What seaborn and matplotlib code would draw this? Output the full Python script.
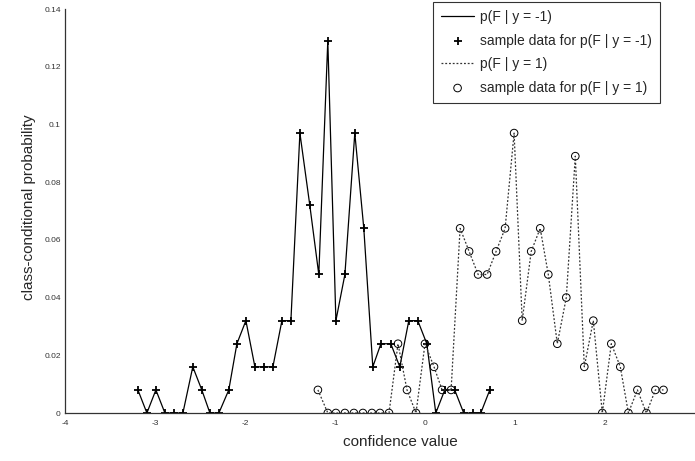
import numpy as np
import seaborn as sns
import matplotlib
matplotlib.use("Agg")
import matplotlib.pyplot as plt

# class y = -1 : histogram bin centres and probabilities
x_neg = [-3.19, -3.09, -2.99, -2.89, -2.79, -2.69, -2.58, -2.48, -2.39, -2.29,
         -2.18, -2.09, -1.99, -1.89, -1.79, -1.69, -1.59, -1.49, -1.39, -1.28,
         -1.18, -1.08, -0.99, -0.89, -0.78, -0.68, -0.58, -0.49, -0.38, -0.28,
         -0.18, -0.08, 0.02, 0.12, 0.22, 0.33, 0.43, 0.53, 0.62, 0.72]
p_neg = [0.008, 0.0, 0.008, 0.0, 0.0, 0.0, 0.016, 0.008, 0.0, 0.0,
         0.008, 0.024, 0.032, 0.016, 0.016, 0.016, 0.032, 0.032, 0.097, 0.072,
         0.048, 0.129, 0.032, 0.048, 0.097, 0.064, 0.016, 0.024, 0.024, 0.016,
         0.032, 0.032, 0.024, 0.0, 0.008, 0.008, 0.0, 0.0, 0.0, 0.008]

# class y = 1
x_pos = [-1.19, -1.08, -0.99, -0.89, -0.79, -0.69, -0.59, -0.50, -0.40, -0.30,
         -0.20, -0.10, 0.0, 0.10, 0.19, 0.29, 0.39, 0.49, 0.59, 0.69,
         0.79, 0.89, 0.99, 1.08, 1.18, 1.28, 1.37, 1.47, 1.57, 1.67,
         1.77, 1.87, 1.97, 2.07, 2.17, 2.26, 2.36, 2.46, 2.56, 2.65]
p_pos = [0.008, 0.0, 0.0, 0.0, 0.0, 0.0, 0.0, 0.0, 0.0, 0.024,
         0.008, 0.0, 0.024, 0.016, 0.008, 0.008, 0.064, 0.056, 0.048, 0.048,
         0.056, 0.064, 0.097, 0.032, 0.056, 0.064, 0.048, 0.024, 0.040, 0.089,
         0.016, 0.032, 0.0, 0.024, 0.016, 0.0, 0.008, 0.0, 0.008, 0.008]

x_ticks = [-4, -3, -2, -1, 0, 1, 2]
y_ticks = [0, 0.02, 0.04, 0.06, 0.08, 0.1, 0.12, 0.14]
y_tick_labels = ["0", "0.02", "0.04", "0.06", "0.08", "0.1", "0.12", "0.14"]

sns.set_style("white")
plt.rcParams["font.family"] = ["Liberation Sans", "DejaVu Sans"]

fig = plt.figure(figsize=(6.95, 4.61), dpi=100)
ax = fig.add_axes([65 / 695, 1 - 413 / 461, 1 - 65 / 695, (413 - 9) / 461])

sns.lineplot(x=x_neg, y=p_neg, ax=ax, color="black", linewidth=0.9,
             label="p(F | y = -1)")
sns.scatterplot(x=x_neg, y=p_neg, ax=ax, marker="+", color="black", s=34,
                linewidth=1.3, label="sample data for p(F | y = -1)")
sns.lineplot(x=x_pos, y=p_pos, ax=ax, color="#333333", linewidth=0.9,
             linestyle=(0, (1.5, 1.5)), label="p(F | y = 1)")
sns.scatterplot(x=x_pos, y=p_pos, ax=ax, marker="o", facecolor="none",
                edgecolor="black", s=30, linewidth=0.7,
                label="sample data for p(F | y = 1)")

ax.set_xlim(-4, 3)
ax.set_ylim(0, 0.14)
ax.set_xticks(x_ticks)
ax.set_xticklabels([str(t) for t in x_ticks])
ax.set_yticks(y_ticks)
ax.set_yticklabels(y_tick_labels)
ax.tick_params(direction="in", length=4, width=0.8, labelsize=6,
               colors="#333333", labelcolor="#333333")
ax.tick_params(axis="x", pad=5)
ax.tick_params(axis="y", pad=3)

sns.despine(ax=ax)
for side in ["left", "bottom"]:
    ax.spines[side].set_color("#333333")
    ax.spines[side].set_linewidth(0.9)

ax.set_xlabel("confidence value", fontsize=11)
ax.set_ylabel("class-conditional probability", fontsize=11)
ax.xaxis.set_label_coords((400 - 65) / 630, -0.055)
ax.yaxis.set_label_coords(-0.046, 0.51)

leg = ax.legend(loc="upper right", bbox_to_anchor=(660 / 695, 1 - 2 / 461),
                bbox_transform=fig.transFigure, frameon=True, fancybox=False,
                edgecolor="black", fontsize=10, handlelength=2.4,
                handletextpad=0.4, borderpad=0.6, labelspacing=0.68,
                borderaxespad=0, scatterpoints=1)
leg.get_frame().set_linewidth(0.8)

fig.savefig("out.png", dpi=100)
